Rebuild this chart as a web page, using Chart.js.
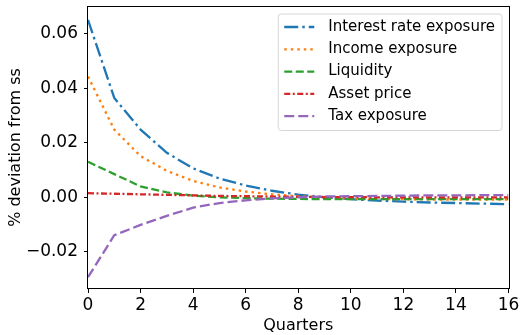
<!DOCTYPE html>
<html>
<head>
<meta charset="utf-8">
<script src="https://cdn.jsdelivr.net/npm/chart.js@4/dist/chart.umd.min.js"></script>
<style>
  html, body { margin: 0; padding: 0; background: #fff; }
  #wrap { width: 522px; height: 335px; }
</style>
</head>
<body>
<div id="wrap"><canvas id="c" width="522" height="335"></canvas></div>
<script>
const quarters = [0,1,2,3,4,5,6,7,8,9,10,11,12,13,14,15,16];
const interestRate = [0.0650, 0.0364, 0.0248, 0.0163, 0.0106, 0.0069, 0.0043, 0.0024, 0.0010, 0.0000, -0.0007, -0.0012, -0.0016, -0.0019, -0.0021, -0.0023, -0.0025];
const incomeExp = [0.0443, 0.0248, 0.0151, 0.0097, 0.0060, 0.0036, 0.0021, 0.0011, 0.0004, -0.0001, -0.0004, -0.0006, -0.0007, -0.0008, -0.0008, -0.0008, -0.0008];
const liquidity = [0.0130, 0.0085, 0.0040, 0.0018, 0.0006, 0.0000, -0.0003, -0.0005, -0.0006, -0.0007, -0.0007, -0.0007, -0.0007, -0.0007, -0.0007, -0.0007, -0.0007];
const assetPrice = [0.0015, 0.0013, 0.0011, 0.0009, 0.0007, 0.0005, 0.0004, 0.0003, 0.0002, 0.0001, 0.0001, 0.0000, 0.0000, 0.0000, 0.0000, 0.0000, 0.0000];
const taxExp = [-0.0293, -0.0139, -0.0101, -0.0068, -0.0038, -0.0021, -0.0011, -0.0004, 0.0000, 0.0003, 0.0004, 0.0005, 0.0006, 0.0007, 0.0007, 0.0008, 0.0008];
const seriesNames = ["Interest rate exposure", "Income exposure", "Liquidity", "Asset price", "Tax exposure"];
const yTicks = [-0.02, 0.00, 0.02, 0.04, 0.06];
const xTicks = [0, 2, 4, 6, 8, 10, 12, 14, 16];

const FONT = "'DejaVu Sans', 'Liberation Sans', sans-serif";

function pts(arr) { return quarters.map((q, i) => ({x: q, y: arr[i]})); }

const styles = [
  {color: '#1f77b4', dash: [14, 4, 2.5, 4]},
  {color: '#ff7f0e', dash: [2.5, 4]},
  {color: '#2ca02c', dash: [8, 3.5]},
  {color: '#d62728', dash: [6, 2.5, 2, 2.5]},
  {color: '#9467bd', dash: [10, 4]}
];
const values = [interestRate, incomeExp, liquidity, assetPrice, taxExp];

const datasets = values.map((v, i) => ({
  label: seriesNames[i],
  data: pts(v),
  borderColor: styles[i].color,
  backgroundColor: styles[i].color,
  borderWidth: 2.3,
  borderDash: styles[i].dash,
  borderCapStyle: 'butt',
  pointRadius: 0,
  tension: 0,
  fill: false,
  order: 4 - i
}));

const framePlugin = {
  id: 'frame',
  afterDatasetsDraw(chart) {
    const a = chart.chartArea;
    const ctx = chart.ctx;
    ctx.save();
    ctx.strokeStyle = '#000';
    ctx.lineWidth = 1;
    ctx.setLineDash([]);
    ctx.strokeRect(Math.round(a.left) - 0.5, Math.round(a.top) + 0.5, Math.round(a.right - a.left) + 1, Math.round(a.bottom - a.top) - 1);
    ctx.restore();
  }
};

const legendPlugin = {
  id: 'mplLegend',
  afterDraw(chart) {
    const a = chart.chartArea;
    const ctx = chart.ctx;
    ctx.save();
    ctx.font = '15px ' + FONT;
    let maxW = 0;
    chart.data.datasets.forEach(d => { maxW = Math.max(maxW, ctx.measureText(d.label).width); });
    const rowH = 22.3;
    const padX = 6, lineLen = 30, gap = 14, padR = 7;
    const w = padX + lineLen + gap + maxW + padR;
    const h = rowH * chart.data.datasets.length + 5;
    const right = a.right - 6.5;
    const left = right - w;
    const top = a.top + 8;
    ctx.beginPath();
    const r = 3;
    ctx.moveTo(left + r, top);
    ctx.lineTo(right - r, top);
    ctx.quadraticCurveTo(right, top, right, top + r);
    ctx.lineTo(right, top + h - r);
    ctx.quadraticCurveTo(right, top + h, right - r, top + h);
    ctx.lineTo(left + r, top + h);
    ctx.quadraticCurveTo(left, top + h, left, top + h - r);
    ctx.lineTo(left, top + r);
    ctx.quadraticCurveTo(left, top, left + r, top);
    ctx.closePath();
    ctx.fillStyle = 'rgba(255,255,255,0.8)';
    ctx.fill();
    ctx.strokeStyle = '#d6d6d6';
    ctx.lineWidth = 1;
    ctx.stroke();
    chart.data.datasets.forEach((d, i) => {
      const cy = top + 13 + i * rowH;
      ctx.beginPath();
      ctx.strokeStyle = d.borderColor;
      ctx.lineWidth = d.borderWidth;
      ctx.lineCap = 'butt';
      ctx.setLineDash(d.borderDash);
      ctx.moveTo(left + padX, cy);
      ctx.lineTo(left + padX + lineLen, cy);
      ctx.stroke();
      ctx.setLineDash([]);
      ctx.fillStyle = '#000';
      ctx.textBaseline = 'middle';
      ctx.textAlign = 'left';
      ctx.fillText(d.label, left + padX + lineLen + gap, cy);
    });
    ctx.restore();
  }
};

new Chart(document.getElementById('c'), {
  type: 'line',
  data: { datasets },
  options: {
    responsive: false,
    animation: false,
    events: [],
    layout: { padding: { left: 6, right: 13.5, top: 6, bottom: 0 } },
    plugins: { legend: { display: false }, tooltip: { enabled: false } },
    scales: {
      x: {
        type: 'linear',
        min: 0, max: 16,
        afterBuildTicks: s => { s.ticks = xTicks.map(v => ({value: v})); },
        afterFit: s => { s.height = 46; s.paddingLeft = 0; s.paddingRight = 0; },
        grid: { drawOnChartArea: false, drawTicks: true, tickLength: 4, tickColor: '#000', lineWidth: 1 },
        border: { display: false },
        ticks: { color: '#000', font: { family: FONT, size: 17 }, padding: 2, maxRotation: 0, autoSkip: false, callback: v => String(v) },
        title: { display: true, text: 'Quarters', color: '#000', font: { family: FONT, size: 16 }, padding: 0 }
      },
      y: {
        type: 'linear',
        min: -0.0336, max: 0.0701,
        afterBuildTicks: s => { s.ticks = yTicks.map(v => ({value: v})); },
        afterFit: s => { s.width = 82; s.paddingTop = 0; s.paddingBottom = 0; },
        grid: { drawOnChartArea: false, drawTicks: true, tickLength: 4, tickColor: '#000', lineWidth: 1 },
        border: { display: false },
        ticks: { color: '#000', font: { family: FONT, size: 17 }, padding: 6, autoSkip: false,
          callback: v => (v < -1e-9 ? '\u2212' + Math.abs(v).toFixed(2) : Math.abs(v).toFixed(2)) },
        title: { display: true, text: '% deviation from ss', color: '#000', font: { family: FONT, size: 16 }, padding: 0 }
      }
    }
  },
  plugins: [framePlugin, legendPlugin]
});
</script>
</body>
</html>
